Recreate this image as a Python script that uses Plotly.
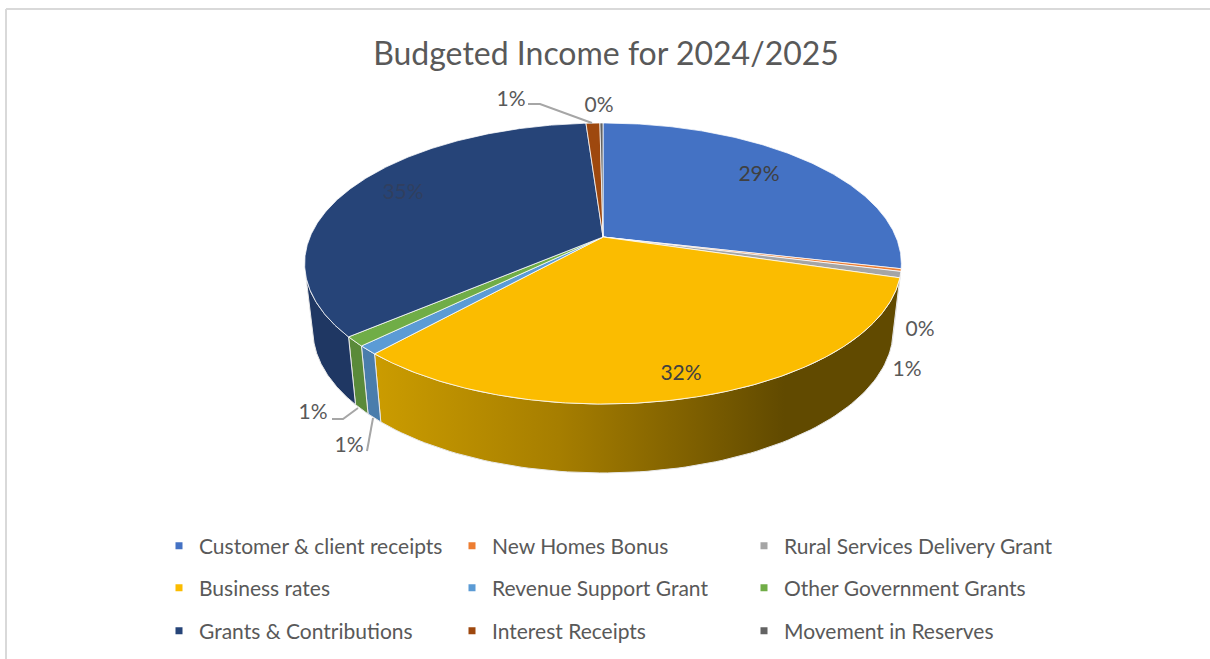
import numpy as np
import plotly.graph_objects as go

title = "Budgeted Income for 2024/2025"
categories = ["Customer & client receipts", "New Homes Bonus", "Rural Services Delivery Grant",
              "Business rates", "Revenue Support Grant", "Other Government Grants",
              "Grants & Contributions", "Interest Receipts", "Movement in Reserves"]
values = [28.6, 0.3, 0.7, 32.1, 1.0, 1.1, 35.1, 0.9, 0.2]
colors = ["#4472C4", "#ED7D31", "#A5A5A5", "#FBBC00", "#5B9BD5", "#70AD47", "#264478", "#9E480E", "#636363"]
wall_colors = ["#365B9D", "#BE6427", "#848484", "#C99A00", "#4A7DAC", "#5A8A39", "#1F3763", "#7E390B", "#4F4F4F"]
percent_labels = ["29%", "0%", "1%", "32%", "1%", "1%", "35%", "1%", "0%"]
label_x = [759, 920, 907, 681, 349, 313, 403, 511, 599]
label_y = [176, 331, 371, 375, 447, 414, 194, 101, 107]
label_colors = ["#404040", "#595959", "#595959", "#404040", "#595959", "#595959", "#303F5F", "#595959", "#595959"]
leader_x = [[528, 540, 592], [332, 343, 358], [367, 373]]
leader_y = [[104, 104, 123], [419, 419, 408], [451, 418]]

FONT = "Lato, Carlito, Calibri, sans-serif"
TEXT = "#595959"
K = 0.1886
TOP = dict(cx=603, cy=237, a=293, b=135.5)
BOT = dict(cx=603, cy=303, a=285, b=137.9)
WALL_RANGE = (105.0, 254.0)


def project(theta_deg, d):
    t = np.radians(theta_deg)
    u, v = np.sin(t), np.cos(t)
    w = 1 + K * v
    return d["cx"] + d["a"] * u / w, d["cy"] - d["b"] * v / w


fig = go.Figure()
edges = np.concatenate([[0], np.cumsum(values)]) / sum(values) * 360

# side walls of the pie, then the top surface
for i, cat in enumerate(categories):
    a0, a1 = max(edges[i], WALL_RANGE[0]), min(edges[i + 1], WALL_RANGE[1])
    if a1 <= a0:
        continue
    th = np.linspace(a0, a1, 90)
    xt, yt = project(th, TOP)
    xb, yb = project(th[::-1], BOT)
    kw = dict(fillcolor=wall_colors[i])
    if cat == "Business rates":
        kw = dict(fillgradient=dict(type="horizontal", colorscale=[
            [0, "#CB9C00"], [0.35, "#A67E00"], [0.6, "#7F6000"], [0.78, "#614A00"], [1, "#614A00"]]))
    fig.add_trace(go.Scatter(x=np.r_[xt, xb, xt[0]], y=np.r_[yt, yb, yt[0]], mode="lines",
                             fill="toself", line=dict(color="#E8E8E8", width=1),
                             showlegend=False, hoverinfo="skip", **kw))

for i, cat in enumerate(categories):
    th = np.linspace(edges[i], edges[i + 1], max(3, int((edges[i + 1] - edges[i]) * 2)))
    xs, ys = project(th, TOP)
    fig.add_trace(go.Scatter(x=np.r_[TOP["cx"], xs, TOP["cx"]], y=np.r_[TOP["cy"], ys, TOP["cy"]],
                             mode="lines", fill="toself", fillcolor=colors[i],
                             line=dict(color="#FFFFFF", width=0.75), name=cat,
                             showlegend=False, hoverinfo="name"))

# leader lines and data labels
for lx, ly in zip(leader_x, leader_y):
    fig.add_trace(go.Scatter(x=lx, y=ly, mode="lines", line=dict(color="#A6A6A6", width=2),
                             showlegend=False, hoverinfo="skip"))
fig.add_trace(go.Scatter(x=label_x, y=label_y, mode="text", text=percent_labels,
                         textposition="middle center",
                         textfont=dict(family=FONT, size=21, color=label_colors),
                         showlegend=False, hoverinfo="skip"))

# one legend per entry so the columns and row spacing follow the original
legend_cols = [159, 452, 744]
legend_rows = [546, 588, 631]
legend_layout = {}
for i, cat in enumerate(categories):
    name = "legend" if i == 0 else f"legend{i + 1}"
    fig.add_trace(go.Scatter(x=[None], y=[None], mode="markers", name=cat,
                             marker=dict(symbol="square", size=7, color=colors[i]), legend=name))
    legend_layout[name] = dict(orientation="h", x=legend_cols[i % 3] / 1210, xanchor="left",
                               y=1 - legend_rows[i // 3] / 659, yanchor="middle",
                               bgcolor="rgba(0,0,0,0)", borderwidth=0,
                               font=dict(family=FONT, size=21, color=TEXT))

fig.update_layout(
    width=1210, height=659, margin=dict(l=0, r=0, t=0, b=0),
    paper_bgcolor="white", plot_bgcolor="white",
    xaxis=dict(range=[0, 1210], visible=False, fixedrange=True),
    yaxis=dict(range=[659, 0], visible=False, fixedrange=True),
    title=dict(text=title, x=606 / 1210, xanchor="center", y=1 - 54 / 659, yanchor="middle",
               font=dict(family=FONT, size=32, color=TEXT)),
    shapes=[
        dict(type="line", xref="x", yref="y", x0=6, x1=1210, y0=9, y1=9, line=dict(color="#D9D9D9", width=2)),
        dict(type="line", xref="x", yref="y", x0=6, x1=6, y0=9, y1=659, line=dict(color="#D9D9D9", width=2)),
    ],
    **legend_layout,
)
fig.write_html("out.html", config=dict(displayModeBar=False),
               post_script="document.body.style.margin='0';document.body.style.overflow='hidden';")
